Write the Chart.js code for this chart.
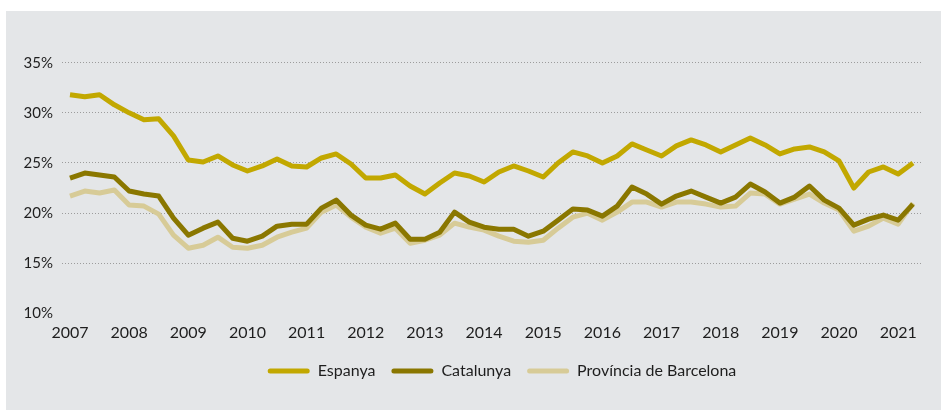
<!DOCTYPE html>
<html>
<head>
<meta charset="utf-8">
<script src="https://cdn.jsdelivr.net/npm/chart.js@4.4.1/dist/chart.umd.min.js"></script>
<style>
  html, body { margin: 0; padding: 0; background: #ffffff; }
  #panel {
    position: absolute;
    left: 6px; top: 11px;
    width: 935px; height: 399px;
    background: #e4e6e8;
  }
</style>
</head>
<body>
<div id="panel"><canvas id="chart-atur"></canvas></div>
<script>
// Taxa trimestral, 2007 T1 - 2021 T2 (valors llegits del gràfic)
const years = ['2007', '2008', '2009', '2010', '2011', '2012', '2013', '2014',
               '2015', '2016', '2017', '2018', '2019', '2020', '2021'];

const espanya = [31.8, 31.6, 31.8, 30.8, 30.0, 29.3, 29.4, 27.7, 25.3, 25.1,
                 25.7, 24.8, 24.2, 24.7, 25.4, 24.7, 24.6, 25.5, 25.9, 24.9,
                 23.5, 23.5, 23.8, 22.7, 21.9, 23.0, 24.0, 23.7, 23.1, 24.1,
                 24.7, 24.2, 23.6, 25.0, 26.1, 25.7, 25.0, 25.7, 26.9, 26.3,
                 25.7, 26.7, 27.3, 26.8, 26.1, 26.8, 27.5, 26.8, 25.9, 26.4,
                 26.6, 26.1, 25.2, 22.5, 24.1, 24.6, 23.9, 25.0];

const catalunya = [23.5, 24.0, 23.8, 23.6, 22.2, 21.9, 21.7, 19.5, 17.8, 18.5,
                   19.1, 17.5, 17.2, 17.7, 18.7, 18.9, 18.9, 20.5, 21.3, 19.8,
                   18.8, 18.4, 19.0, 17.4, 17.4, 18.1, 20.1, 19.1, 18.6, 18.4,
                   18.4, 17.7, 18.2, 19.3, 20.4, 20.3, 19.7, 20.7, 22.6, 21.9,
                   20.9, 21.7, 22.2, 21.6, 21.0, 21.6, 22.9, 22.1, 21.0, 21.6,
                   22.7, 21.3, 20.5, 18.8, 19.4, 19.8, 19.3, 20.9];

const barcelona = [21.7, 22.2, 22.0, 22.3, 20.8, 20.7, 19.9, 17.8, 16.5, 16.8,
                   17.6, 16.6, 16.5, 16.8, 17.6, 18.1, 18.5, 20.1, 20.8, 19.6,
                   18.6, 18.0, 18.5, 17.0, 17.3, 17.8, 19.0, 18.6, 18.3, 17.7,
                   17.2, 17.1, 17.3, 18.5, 19.6, 20.0, 19.3, 20.1, 21.1, 21.1,
                   20.6, 21.1, 21.1, 20.9, 20.6, 20.7, 22.0, 21.9, 20.9, 21.4,
                   21.9, 21.0, 20.3, 18.2, 18.7, 19.5, 18.9, 21.0];

const seriesNames = ['Espanya', 'Catalunya', 'Província de Barcelona'];
const seriesColors = ['#c2a800', '#8a7700', '#d7cb97'];

const FONT = "'Lato', 'Open Sans', sans-serif";

function toPoints(values) {
    return values.map((v, i) => ({ x: i, y: v }));
}

function makeDataset(name, values, color) {
    return {
        label: name,
        data: toPoints(values),
        borderColor: color,
        backgroundColor: color,
        borderWidth: 5,
        borderJoinStyle: 'round',
        pointRadius: 0,
        pointHoverRadius: 0,
        tension: 0,
        fill: false
    };
}

// desplaça la llegenda cap a la dreta, com a l'original
const legendShift = {
    id: 'legendShift',
    afterLayout(chart) {
        const shift = 38;
        chart.legend.left += shift;
        chart.legend.right += shift;
    }
};

const ctx = document.getElementById('chart-atur');
const chart = new Chart(ctx, {
    type: 'line',
    data: {
        datasets: [
            makeDataset(seriesNames[0], espanya, seriesColors[0]),
            makeDataset(seriesNames[1], catalunya, seriesColors[1]),
            makeDataset(seriesNames[2], barcelona, seriesColors[2])
        ]
    },
    options: {
        responsive: true,
        maintainAspectRatio: false,
        animation: false,
        layout: {
            padding: { top: 51.7, right: 19, bottom: 21, left: 0 }
        },
        plugins: {
            title: { display: false },
            tooltip: { enabled: false },
            legend: {
                position: 'bottom',
                labels: {
                    boxWidth: 42,
                    boxHeight: 5,
                    useBorderRadius: true,
                    borderRadius: 2.5,
                    padding: 16,
                    color: '#1e1e1e',
                    font: { family: FONT, size: 16 },
                    generateLabels(chart) {
                        const items = Chart.defaults.plugins.legend.labels.generateLabels(chart);
                        items.forEach(it => { it.lineWidth = 0; });
                        return items;
                    }
                }
            }
        },
        scales: {
            x: {
                type: 'linear',
                min: -0.54,
                max: 57.61,
                afterFit(scale) { scale.height = 33.6; },
                grid: { display: false, drawTicks: false },
                border: { display: false },
                ticks: {
                    stepSize: 4,
                    includeBounds: false,
                    autoSkip: false,
                    maxRotation: 0,
                    padding: 10,
                    color: '#1e1e1e',
                    font: { family: FONT, size: 16 },
                    callback: function(value) {
                        return years[value / 4] || '';
                    }
                }
            },
            y: {
                min: 10,
                max: 35,
                afterFit(scale) { scale.width = 56; },
                grid: {
                    drawTicks: false,
                    lineWidth: 1,
                    color: function(c) {
                        return c.tick && c.tick.value === 10 ? 'rgba(0,0,0,0)' : '#9c9c9c';
                    }
                },
                border: { display: false, dash: [1, 2] },
                ticks: {
                    stepSize: 5,
                    padding: 9,
                    color: '#1e1e1e',
                    font: { family: FONT, size: 15 },
                    callback: function(value) {
                        return value + '%';
                    }
                }
            }
        }
    },
    plugins: [legendShift]
});
</script>
</body>
</html>
